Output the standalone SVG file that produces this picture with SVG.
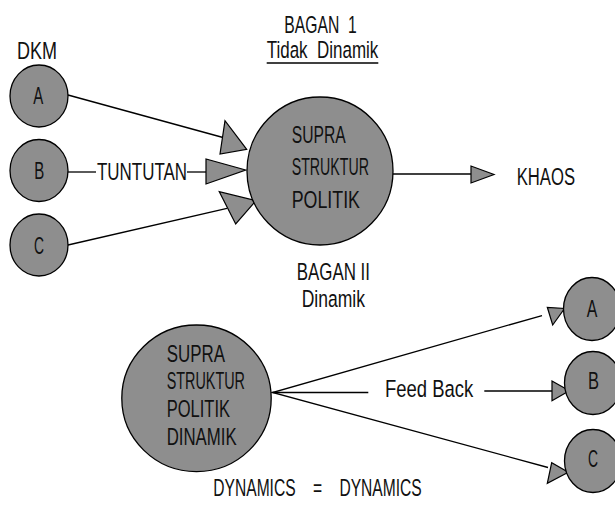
<svg xmlns="http://www.w3.org/2000/svg" width="615" height="505" viewBox="0 0 615 505">
<style>
.n{fill:#8e8e8e;stroke:#000;stroke-width:1.3}
.t{font-family:"Liberation Sans Narrow","Liberation Sans",Arial,sans-serif;font-size:24.5px;fill:#111;white-space:pre}
.l{stroke:#000;stroke-width:1.3;fill:none}
.ah{fill:#8e8e8e;stroke:#000;stroke-width:1.2;stroke-linejoin:miter}
</style>
<rect width="615" height="505" fill="#fff"/>
<g id="titles">
<text class="t" x="284.3" y="33.3" textLength="72.4" lengthAdjust="spacingAndGlyphs" xml:space="preserve">BAGAN  1</text>
<text class="t" x="266.7" y="58" textLength="111.6" lengthAdjust="spacingAndGlyphs" xml:space="preserve">Tidak  Dinamik</text>
<line class="l" x1="266.7" y1="63" x2="378.3" y2="63"/>
<text class="t" x="17" y="59" textLength="40" lengthAdjust="spacingAndGlyphs">DKM</text>
<text class="t" x="296.7" y="280" textLength="73.3" lengthAdjust="spacingAndGlyphs">BAGAN II</text>
<text class="t" x="301.7" y="306.7" textLength="63.3" lengthAdjust="spacingAndGlyphs">Dinamik</text>
<text class="t" x="213.3" y="496" textLength="208.4" lengthAdjust="spacingAndGlyphs" xml:space="preserve">DYNAMICS    =    DYNAMICS</text>
</g>
<g id="connectors">
<line class="l" x1="68" y1="95" x2="223" y2="137.5"/>
<polygon class="ah" points="225,120.7 220,154 246.7,149.3"/>
<line class="l" x1="68" y1="172" x2="96" y2="172"/>
<text class="t" x="97" y="180" textLength="90" lengthAdjust="spacingAndGlyphs">TUNTUTAN</text>
<line class="l" x1="187" y1="172" x2="206" y2="172"/>
<polygon class="ah" points="206,159 206,184 245.7,170"/>
<line class="l" x1="68" y1="245" x2="227" y2="208.3"/>
<polygon class="ah" points="219.3,191.7 235.7,224 256,200.7"/>
<line class="l" x1="393" y1="174" x2="471" y2="174"/>
<polygon class="ah" points="471,166 471,183 494,174.5"/>
<text class="t" x="516.7" y="185" font-size="25.5" textLength="58.3" lengthAdjust="spacingAndGlyphs">KHAOS</text>
<polyline class="l" points="542,315.5 272.5,392.5 548,467.5"/>
<polygon class="ah" points="547.3,307.3 552.7,325 564.5,308.5"/>
<polygon class="ah" points="551.7,462.7 547.3,483.3 568.3,472.3"/>
<line class="l" x1="272.5" y1="392.5" x2="368.3" y2="392.5"/>
<text class="t" x="385" y="396.7" textLength="88.3" lengthAdjust="spacingAndGlyphs">Feed Back</text>
<line class="l" x1="484.3" y1="391" x2="552" y2="391"/>
<polygon class="ah" points="552,381 552,400.7 569.3,390.7"/>
</g>
<g id="nodeA">
<ellipse class="n" cx="39" cy="96" rx="29" ry="31"/>
<text class="t" x="33.3" y="104" textLength="10" lengthAdjust="spacingAndGlyphs">A</text>
</g>
<g id="nodeB">
<ellipse class="n" cx="39" cy="170.5" rx="29" ry="31"/>
<text class="t" x="34.3" y="179" textLength="10" lengthAdjust="spacingAndGlyphs">B</text>
</g>
<g id="nodeC">
<ellipse class="n" cx="39" cy="245" rx="29" ry="31"/>
<text class="t" x="34" y="254" textLength="10" lengthAdjust="spacingAndGlyphs">C</text>
</g>
<g id="supra1">
<ellipse class="n" cx="320" cy="171" rx="73" ry="74"/>
<text class="t" x="291.7" y="143.3" textLength="54" lengthAdjust="spacingAndGlyphs">SUPRA</text>
<text class="t" x="291.7" y="175" textLength="77.3" lengthAdjust="spacingAndGlyphs">STRUKTUR</text>
<text class="t" x="291.7" y="207.7" textLength="68.3" lengthAdjust="spacingAndGlyphs">POLITIK</text>
</g>
<g id="supra2">
<ellipse class="n" cx="196.5" cy="398.3" rx="74.7" ry="73.3"/>
<text class="t" x="166.7" y="361.7" textLength="58.3" lengthAdjust="spacingAndGlyphs">SUPRA</text>
<text class="t" x="166.7" y="389.3" textLength="78.3" lengthAdjust="spacingAndGlyphs">STRUKTUR</text>
<text class="t" x="166.7" y="417.3" textLength="63.3" lengthAdjust="spacingAndGlyphs">POLITIK</text>
<text class="t" x="166.7" y="445" textLength="70" lengthAdjust="spacingAndGlyphs">DINAMIK</text>
</g>
<g id="nodeA2">
<ellipse class="n" cx="592" cy="309" rx="28.5" ry="31.5"/>
<text class="t" x="586.7" y="316.7" textLength="10.6" lengthAdjust="spacingAndGlyphs">A</text>
</g>
<g id="nodeB2">
<ellipse class="n" cx="593" cy="383" rx="28.5" ry="31.5"/>
<text class="t" x="588" y="389.3" textLength="11" lengthAdjust="spacingAndGlyphs">B</text>
</g>
<g id="nodeC2">
<ellipse class="n" cx="593" cy="461" rx="28.5" ry="31.5"/>
<text class="t" x="588" y="466.7" textLength="10" lengthAdjust="spacingAndGlyphs">C</text>
</g>
</svg>
